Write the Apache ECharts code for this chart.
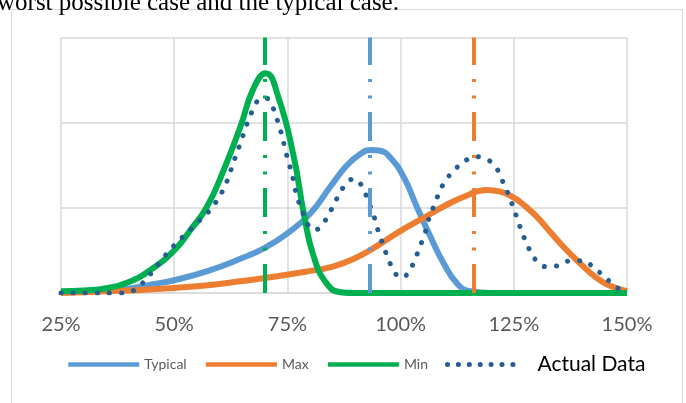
<!DOCTYPE html>
<html>
<head>
<meta charset="utf-8">
<script src="https://cdn.jsdelivr.net/npm/echarts@6/dist/echarts.min.js"></script>
<style>
html,body{margin:0;padding:0;background:#fff;}
#chart{width:686px;height:403px;}
</style>
</head>
<body>
<div id="chart"></div>
<script>
// x-axis ticks (percent)
var xTicks = [25, 50, 75, 100, 125, 150];
var seriesNames = ['Typical', 'Max', 'Min', 'Actual Data'];

// Typical (blue) curve [x%, value]
var typicalData = [[25,0.01],[30,0.02],[35,0.035],[41,0.06],[45,0.1],[50,0.15],[57.5,0.26],[65,0.41],[70,0.53],[75,0.70],[80,0.93],[84.5,1.25],[88,1.49],[91,1.63],[93.5,1.68],[95.5,1.67],[97.7,1.59],[100.7,1.36],[103.6,1.01],[106.6,0.66],[109.5,0.35],[112.5,0.11],[115.4,0.02],[120,0],[150,0]];

// Max (orange) curve
var maxData = [[25,0],[30,0.01],[35,0.02],[42.5,0.035],[50,0.06],[57.5,0.09],[65,0.14],[72,0.19],[79,0.25],[85,0.31],[90,0.41],[95,0.56],[100,0.73],[105,0.88],[110,1.03],[114,1.13],[119,1.21],[122,1.19],[125,1.12],[127.5,1.02],[130,0.90],[133,0.72],[136,0.54],[140,0.33],[143,0.19],[146,0.09],[150,0.02]];

// Min (green) curve
var minData = [[25,0.02],[30,0.03],[35,0.055],[40,0.13],[45,0.28],[50,0.50],[53.6,0.74],[57.2,1.01],[60.9,1.44],[64.6,1.95],[67.5,2.40],[70.2,2.58],[73,2.30],[76.4,1.60],[78.6,0.94],[80.8,0.43],[83.7,0.11],[86.7,0.01],[90,0],[150,0]];

// Actual Data (dotted) curve
var actualData = [[25,0],[30,0],[35,0],[39,0],[41.4,0.04],[43.6,0.15],[45.5,0.27],[47.4,0.40],[49.3,0.52],[51.3,0.63],[53.5,0.74],[55.6,0.85],[57.7,0.96],[59.5,1.09],[60.9,1.22],[62.0,1.36],[63.0,1.52],[64.0,1.67],[65.0,1.82],[65.9,1.96],[67.0,2.11],[68.3,2.25],[69.5,2.29],[70.7,2.28],[72.1,2.14],[73.0,1.99],[73.9,1.83],[74.5,1.69],[75.3,1.53],[76.1,1.38],[76.7,1.22],[77.5,1.07],[78.5,0.93],[79.8,0.78],[81.0,0.74],[82.3,0.77],[83.9,0.90],[85.3,1.04],[86.6,1.18],[88.4,1.31],[89.6,1.34],[90.9,1.30],[92.2,1.17],[93.3,1.02],[94.3,0.87],[95.1,0.72],[96.1,0.57],[97.1,0.42],[98.3,0.28],[99.3,0.2],[100.3,0.18],[101.3,0.21],[102.4,0.30],[103.6,0.45],[104.6,0.59],[105.6,0.74],[106.4,0.90],[107.5,1.04],[108.6,1.19],[109.9,1.32],[111.8,1.44],[114.1,1.55],[116.9,1.60],[119.7,1.55],[121.6,1.43],[122.7,1.29],[123.9,1.15],[124.9,1.00],[125.9,0.85],[126.9,0.70],[128.1,0.55],[129.5,0.41],[131.8,0.31],[134.7,0.32],[137.5,0.38],[140.4,0.38],[142.8,0.29],[145.1,0.19],[147.3,0.08],[150,0]];

// Vertical reference markers (x%)
var typicalMarker = 93.2;
var maxMarker = 116.1;
var minMarker = 70.1;

var BLUE = '#5B9BD5', ORANGE = '#ED7D31', GREEN = '#00B050', DARK = '#255E91';
var DASHDOTDOT = [29, 13.5, 3, 13.5, 3, 14];

function vline(name, x, color) {
  return {
    name: name + ' marker', type: 'line', data: [], silent: true, z: 1,
    markLine: {
      silent: true, symbol: 'none', label: {show: false},
      lineStyle: {color: color, width: 4, type: DASHDOTDOT, cap: 'butt'},
      emphasis: {disabled: true},
      data: [{xAxis: x}]
    }
  };
}

function curve(name, data, color, width, smooth, z, dash) {
  return {
    name: name, type: 'line', data: data, smooth: smooth, symbol: 'none', showSymbol: false, z: z,
    lineStyle: dash ? {color: color, width: width, type: dash, cap: 'round'} : {color: color, width: width},
    itemStyle: {color: color}
  };
}

var chart = echarts.init(document.getElementById('chart'), null, {renderer: 'canvas'});
chart.setOption({
  animation: false,
  backgroundColor: '#ffffff',
  graphic: [
    {type: 'rect', shape: {x: 11.5, y: 9.5, width: 671, height: 420}, style: {fill: 'none', stroke: '#d9d9d9', lineWidth: 1}, silent: true, z: -1},
    {type: 'text', x: -3, y: 3, style: {text: 'worst possible case and the typical case.', font: '25px "Liberation Serif"', fill: '#000', verticalAlign: 'middle'}, silent: true}
  ],
  grid: {left: 61, right: 59, top: 37.5, bottom: 110},
  xAxis: {
    type: 'value', min: 25, max: 150, interval: 25,
    axisLine: {show: true, lineStyle: {color: '#d9d9d9', width: 1.5}},
    axisTick: {show: false},
    axisLabel: {formatter: '{value}%', fontFamily: 'Lato', fontSize: 20, color: '#595959', margin: 22},
    splitLine: {show: true, lineStyle: {color: '#d9d9d9', width: 1.5}}
  },
  yAxis: {
    type: 'value', min: 0, max: 3, interval: 1,
    axisLine: {show: false}, axisTick: {show: false}, axisLabel: {show: false},
    splitLine: {show: true, lineStyle: {color: '#d9d9d9', width: 1.5}}
  },
  legend: {
    left: 66, top: 354, padding: 0, itemWidth: 71, itemHeight: 14, itemGap: 17,
    textStyle: {fontFamily: 'Lato', fontSize: 14, color: '#595959'},
    lineStyle: {width: 4.5},
    itemStyle: {opacity: 0},
    data: [
      {name: seriesNames[0]},
      {name: seriesNames[1]},
      {name: seriesNames[2]},
      {name: seriesNames[3], textStyle: {fontSize: 21, color: '#000', padding: [0, 0, 0, 14]}, lineStyle: {width: 5, type: [0.1, 10.8], cap: 'round'}}
    ]
  },
  series: [
    vline('Typical', typicalMarker, BLUE),
    vline('Max', maxMarker, ORANGE),
    vline('Min', minMarker, GREEN),
    curve(seriesNames[0], typicalData, BLUE, 6, 0.5, 2),
    curve(seriesNames[1], maxData, ORANGE, 6, 0.5, 2),
    curve(seriesNames[2], minData, GREEN, 6, 0.5, 2),
    curve(seriesNames[3], actualData, DARK, 5, 0.3, 3, [0.1, 12])
  ]
});
</script>
</body>
</html>
